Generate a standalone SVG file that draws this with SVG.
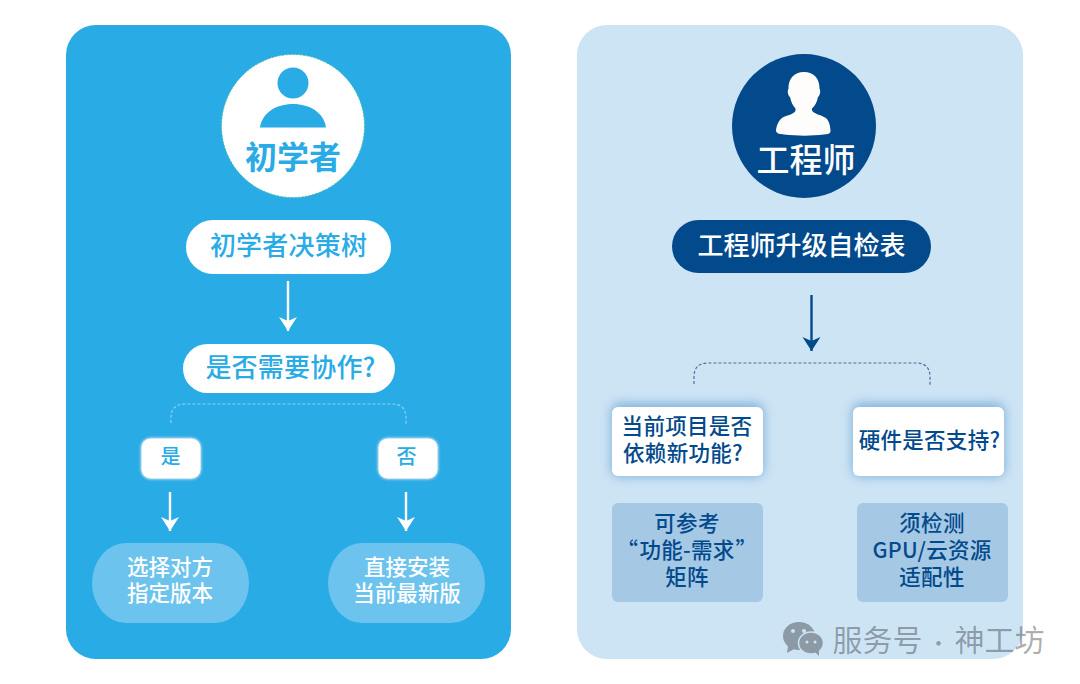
<svg xmlns="http://www.w3.org/2000/svg" width="1080" height="684" viewBox="0 0 1080 684">
<style>
text{font-family:"Noto Sans CJK SC","Noto Sans",sans-serif;text-anchor:middle}
.b{font-size:26px;font-weight:500;fill:#29abe6;letter-spacing:.2px}
.n{font-size:21.500px;font-weight:500;fill:#034a8d;letter-spacing:.3px}
.w{font-size:21.500px;font-weight:500;fill:#fff}
.arW{stroke:#fff;stroke-width:2.400;fill:none}
.arN{stroke:#034a8d;stroke-width:2.400;fill:none}
.pill{fill:#6cc3ed}
.card{fill:#a5c8e4}
.wm{fill:#cde4f5}
</style>
<defs>
<filter id="gw" x="-20%" y="-20%" width="140%" height="140%"><feGaussianBlur stdDeviation="1"/></filter>
<filter id="gs" x="-30%" y="-40%" width="160%" height="180%"><feGaussianBlur stdDeviation="6"/></filter>
<marker id="hW" markerUnits="userSpaceOnUse" markerWidth="16" markerHeight="20" refX="14" refY="10" orient="auto"><path d="M0 1L14 10L0 19L4 10Z" fill="#fff"/></marker>
<marker id="hN" markerUnits="userSpaceOnUse" markerWidth="16" markerHeight="20" refX="14" refY="10" orient="auto"><path d="M0 1L14 10L0 19L4 10Z" fill="#034a8d"/></marker>
</defs>
<rect width="1080" height="684" fill="#fff"/>
<rect id="panel-left" x="66" y="25" width="445" height="634" rx="30" fill="#29abe6"/>
<rect id="panel-right" x="577" y="25" width="446" height="634" rx="30" fill="#cde4f5"/>

<g id="connectors">
<path class="arW" d="M288 281V331" marker-end="url(#hW)"/>
<path class="arW" d="M170 492V531" marker-end="url(#hW)"/>
<path class="arW" d="M406 492V531" marker-end="url(#hW)"/>
<path d="M171 423V418Q171 404 185 404H392Q406 404 406 418V424" fill="none" stroke="#8fd0ef" stroke-width="1.200" stroke-dasharray="3 2"/>
<path class="arN" d="M811.500 295V351" marker-end="url(#hN)"/>
<path d="M694 384V377Q694 363 708 363H916Q930 363 930 377V385" fill="none" stroke="#4d6f9c" stroke-width="1.200" stroke-dasharray="3 2"/>
</g>

<g id="node-beginner">
<circle cx="293" cy="126" r="71.500" fill="#fff" stroke="#4fc3a8" stroke-width="1" stroke-dasharray="2 1.500"/>
<circle cx="293" cy="83" r="15.500" fill="#29abe6"/>
<path d="M260 127.500C262 113 276 104 293 104C310 104 324 113 326 127.500Z" fill="#29abe6"/>
<text x="293" y="169" font-size="32" font-weight="700" fill="#29abe6">初学者</text>
</g>
<g id="node-engineer">
<circle cx="804" cy="126" r="72" fill="#034a8d"/>
<path d="M804 72C794 72 788 79 788.500 89C787 90 788 96 790 97C791 102 793 106 795.500 108.500V111C793 115 786 115 782 118C778 121 776 127 776 131C777 134 780 134 784 134.500C797 136 812 136 824 134.500C828 134 831 134 830.500 130C830 125 829 120 825 117.500C821 115 814 114 812 110.500V108.500C815 106 817 102 818 97C820 96 821 90 819.500 89C820 79 814 72 804 72Z" fill="#fffdfb"/>
<text x="806" y="172" font-size="33" font-weight="500" fill="#fff">工程师</text>
</g>

<g id="node-b-title">
<rect x="186" y="220" width="205" height="54" rx="27" fill="#fff"/>
<text class="b" x="288.500" y="255">初学者决策树</text>
</g>
<g id="node-b-question">
<rect x="183" y="344" width="212" height="49" rx="24.500" fill="#fff"/>
<text class="b" x="290.500" y="377">是否需要协作?</text>
</g>
<g id="node-yes">
<rect x="140.500" y="437.500" width="61" height="42" rx="10" fill="#fdeeee" opacity=".7" filter="url(#gw)"/>
<rect x="141.500" y="438.500" width="59" height="40" rx="9" fill="#fff"/>
<text x="170.500" y="463.500" font-size="20" font-weight="500" fill="#29abe6">是</text>
</g>
<g id="node-no">
<rect x="377.500" y="437.500" width="61" height="42" rx="10" fill="#fdeeee" opacity=".7" filter="url(#gw)"/>
<rect x="378.500" y="438.500" width="59" height="40" rx="9" fill="#fff"/>
<text x="406.500" y="463.500" font-size="20" font-weight="500" fill="#29abe6">否</text>
</g>
<g id="node-yes-result">
<rect class="pill" x="92" y="543" width="157" height="80" rx="34" ry="40"/>
<text class="w" x="170" y="575">选择对方</text>
<text class="w" x="170" y="601">指定版本</text>
</g>
<g id="node-no-result">
<rect class="pill" x="328" y="543" width="157" height="80" rx="34" ry="40"/>
<text class="w" x="407" y="575">直接安装</text>
<text class="w" x="407" y="601">当前最新版</text>
</g>

<g id="node-e-title">
<rect x="672" y="220" width="259" height="53" rx="26.500" fill="#034a8d"/>
<text x="801.500" y="255" font-size="26" font-weight="500" fill="#fff">工程师升级自检表</text>
</g>
<g id="node-e-q1">
<rect x="612" y="404" width="151" height="72" rx="6" fill="#3f86c0" opacity=".6" filter="url(#gs)"/>
<rect x="612" y="407" width="151" height="69" rx="6" fill="#fff"/>
<text class="n" x="687" y="434">当前项目是否</text>
<text class="n" x="683" y="461">依赖新功能?</text>
</g>
<g id="node-e-q2">
<rect x="853" y="404" width="151" height="72" rx="6" fill="#3f86c0" opacity=".6" filter="url(#gs)"/>
<rect x="853" y="407" width="151" height="69" rx="6" fill="#fff"/>
<text class="n" x="929.500" y="448">硬件是否支持?</text>
</g>
<g id="node-e-r1">
<rect class="card" x="612" y="503" width="151" height="99" rx="6"/>
<text class="n" x="687" y="531">可参考</text>
<text class="n" x="687" y="558">“<tspan dx="1">功能-需求</tspan><tspan dx="1">”</tspan></text>
<text class="n" x="687" y="585">矩阵</text>
</g>
<g id="node-e-r2">
<rect class="card" x="857" y="503" width="151" height="99" rx="6"/>
<text class="n" x="932" y="531">须检测</text>
<text class="n" x="932" y="558">GPU/云资源</text>
<text class="n" x="932" y="585">适配性</text>
</g>

<g id="watermark">
<ellipse cx="799" cy="636" rx="16" ry="14" fill="#8c9aa5"/>
<path d="M788 646L787 653L796 648Z" fill="#8c9aa5"/>
<ellipse cx="811" cy="643" rx="12.500" ry="11" fill="#8c9aa5" stroke="#cde4f5" stroke-width="1.500"/>
<path d="M815 652L819 656L819 650Z" fill="#8c9aa5"/>
<circle class="wm" cx="793" cy="631" r="2"/><circle class="wm" cx="804" cy="631" r="2"/>
<circle class="wm" cx="807" cy="642" r="1.500"/><circle class="wm" cx="815" cy="642" r="1.500"/>
<text x="938.500" y="651" font-size="30" fill="#000" fill-opacity=".32" font-weight="400">服务号<tspan font-size="22"> · </tspan>神工坊</text>
</g>
</svg>
